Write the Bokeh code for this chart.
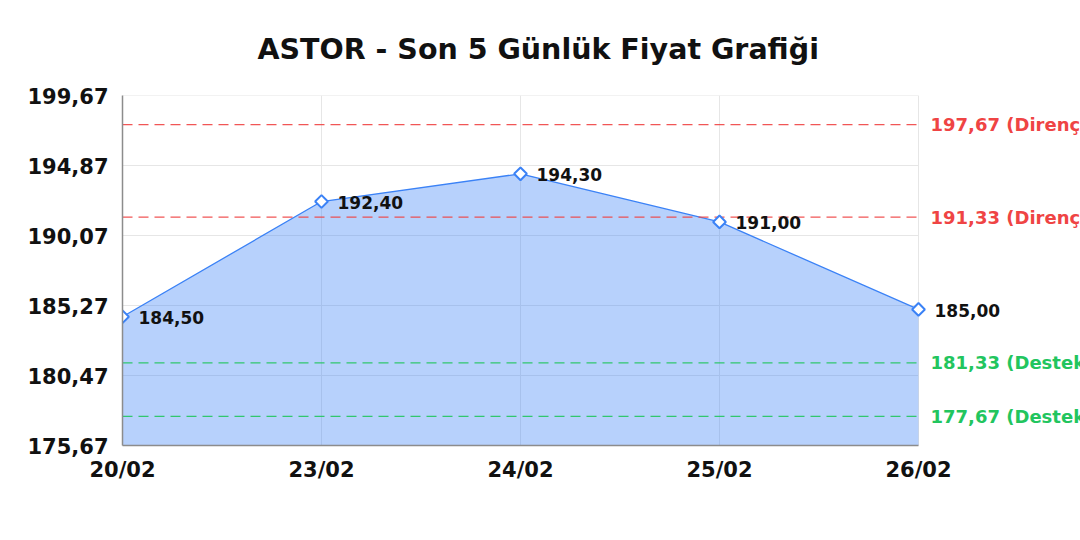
from bokeh.plotting import figure
from bokeh.models import ColumnDataSource, LabelSet, Label, FixedTicker, Range1d
from bokeh.core.properties import value
from bokeh.embed import file_html
from bokeh.resources import INLINE

# data
dates = ["20/02", "23/02", "24/02", "25/02", "26/02"]
prices = [184.50, 192.40, 194.30, 191.00, 185.00]
resistance = [197.67, 191.33]
support = [181.33, 177.67]
y_ticks = [175.67, 180.47, 185.27, 190.07, 194.87, 199.67]
y_min, y_max = 175.67, 199.67

def tr(v):
    return f"{v:.2f}".replace(".", ",")

FONT = "DejaVu Sans"
BLUE = "#3b82f6"
RED = "#ef4444"
GREEN = "#22c55e"

xs = list(range(len(dates)))
x_last = xs[-1]
src = ColumnDataSource(dict(x=xs, y=prices, lbl=[tr(v) for v in prices]))

# frame runs to the right edge so the outside labels are not clipped;
# the data area itself stays 796px wide
W, H = 1080, 540
left, top, bottom = 122, 95, 95
x_end = x_last * (W - left) / 796

p = figure(width=W, height=H, output_backend="svg", toolbar_location=None,
           x_range=Range1d(0, x_end), y_range=Range1d(y_min, y_max),
           min_border_left=left, min_border_right=0, min_border_top=top,
           min_border_bottom=bottom)
p.outline_line_color = None
p.background_fill_color = "white"
p.border_fill_color = "white"

p.title.text = "ASTOR - Son 5 Günlük Fiyat Grafiği"
p.title.align = "left"
p.title.offset = 135
p.title.text_font = FONT
p.title.text_font_size = "28.5px"
p.title.text_font_style = "bold"
p.title.text_color = "#111111"
p.title.standoff = 59

# axes
p.xaxis.ticker = FixedTicker(ticks=xs)
p.xaxis.major_label_overrides = {i: d for i, d in enumerate(dates)}
p.xaxis.bounds = (0, x_last)
p.yaxis.ticker = FixedTicker(ticks=y_ticks)
p.yaxis.major_label_overrides = {t: tr(t) for t in y_ticks}
for ax in (p.xaxis, p.yaxis):
    ax.major_label_text_font = FONT
    ax.major_label_text_font_size = "21px"
    ax.major_label_text_font_style = "bold"
    ax.major_label_text_color = "#111111"
    ax.axis_line_color = "#8c8c8c"
    ax.axis_line_width = 1.5
    ax.major_tick_out = 0
    ax.major_tick_in = 0
    ax.minor_tick_out = 0
    ax.minor_tick_in = 0
p.yaxis.major_label_standoff = 14
p.xaxis.major_label_standoff = 12

# grid only over the data area
p.grid.visible = False
p.segment(x0=xs, y0=y_min, x1=xs, y1=y_max, line_color="#e6e6e6", line_width=1)
p.segment(x0=0, y0=y_ticks, x1=x_last, y1=y_ticks, line_color="#e6e6e6", line_width=1)

# area + line + markers
p.varea(x="x", y1=y_min, y2="y", source=src, fill_color=BLUE, fill_alpha=0.37)
p.line(x="x", y="y", source=src, line_color=BLUE, line_width=1.3)

# support / resistance
for levels, col, name in ((resistance, RED, "Direnç"), (support, GREEN, "Destek")):
    p.segment(x0=0, y0=levels, x1=x_last, y1=levels, line_color=col, line_alpha=0.9,
              line_width=1.3, line_dash="10 6")
    for v in levels:
        p.add_layout(Label(x=x_last, y=v, text=f"{tr(v)} ({name})", x_offset=12,
                           text_baseline="middle", text_font=FONT,
                           text_font_size="18px", text_font_style="bold", text_color=col))

p.scatter(x="x", y="y", source=src, marker="square", angle=0.785398, size=9,
          fill_color="white", line_color=BLUE, line_width=2)

p.add_layout(LabelSet(x="x", y="y", text="lbl", source=src, x_offset=16, y_offset=-1,
                      text_baseline="middle", text_font=value(FONT), text_font_size="17px",
                      text_font_style="bold", text_color="#111111"))

open("out.html", "w").write(file_html(p, INLINE))
